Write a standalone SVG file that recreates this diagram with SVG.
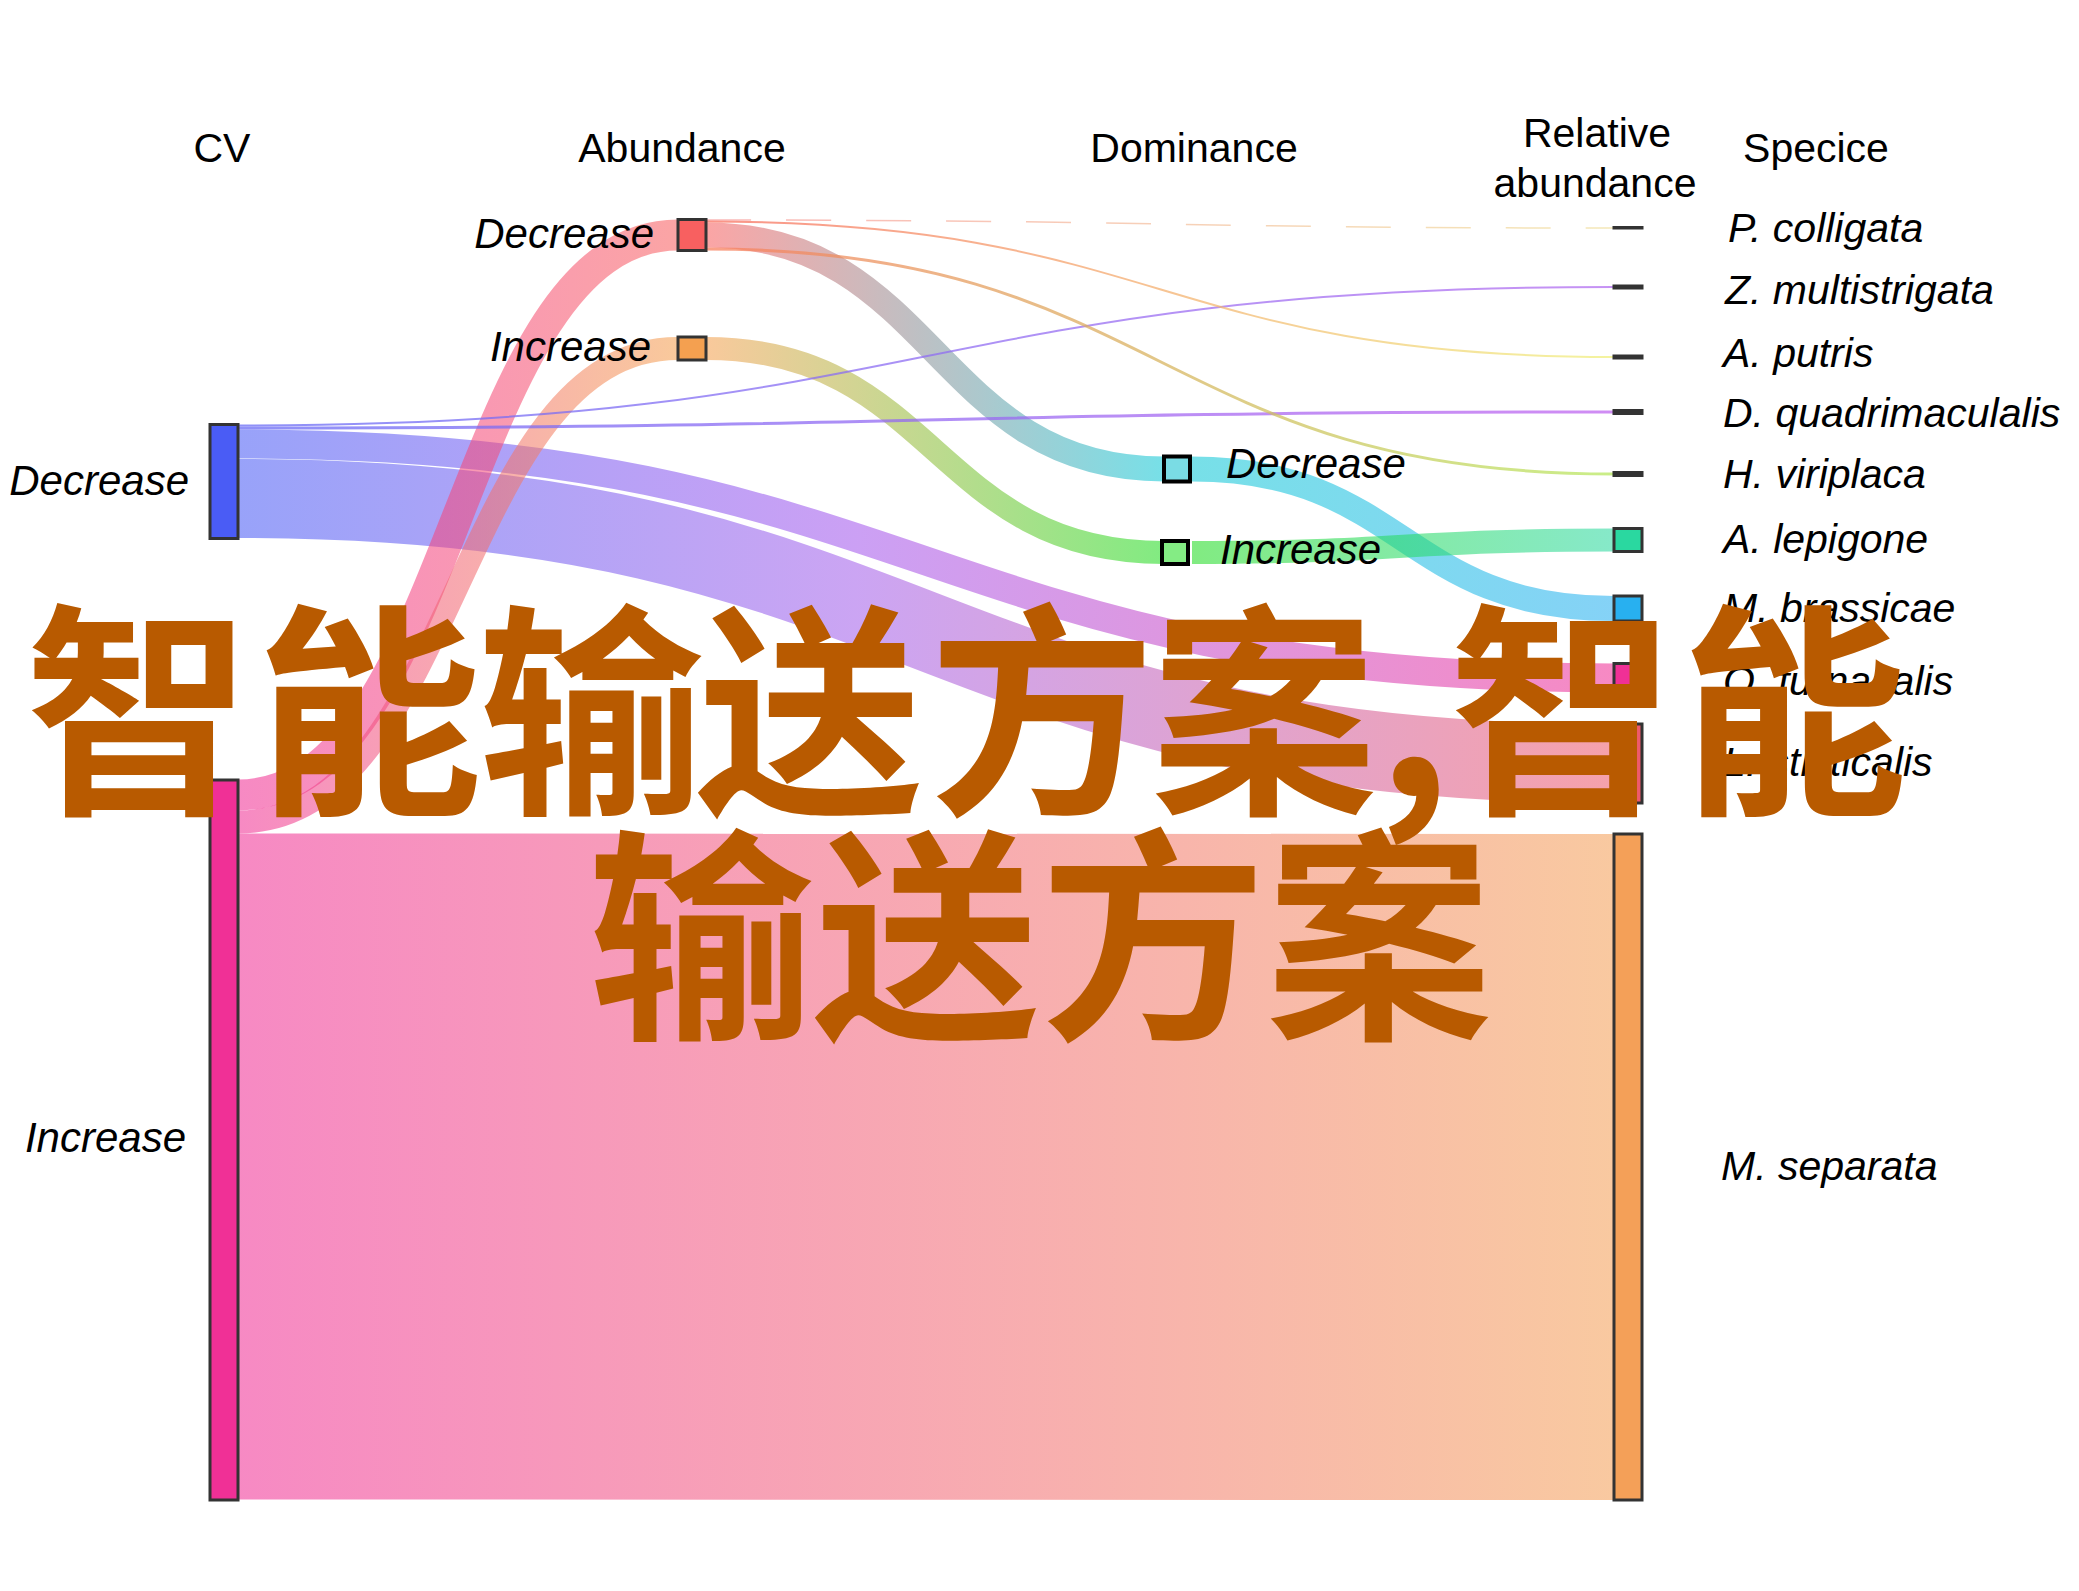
<svg xmlns="http://www.w3.org/2000/svg" width="2079" height="1591" viewBox="0 0 2079 1591">
<style>
.hdr{font-family:"Liberation Sans",Arial,sans-serif;font-size:41px;fill:#000;text-anchor:middle}
.lbl{font-family:"Liberation Sans",Arial,sans-serif;font-size:42px;font-style:italic;fill:#000}
.sp{font-family:"Liberation Sans",Arial,sans-serif;font-size:41px;font-style:italic;fill:#000}
.end{text-anchor:end}
.node{stroke:#333;stroke-width:3}
.dom{stroke:#000;stroke-width:4}
.link{fill:none;stroke-opacity:0.57}
.thin{fill:none;stroke-opacity:0.75}
.big{font-family:"Noto Sans CJK SC","Noto Sans CJK JP",sans-serif;font-size:226px;font-weight:700;fill:#B85A00}
</style>
<defs>
<linearGradient id="g1" gradientUnits="userSpaceOnUse" x1="238" y1="0" x2="1614" y2="0"><stop offset="0" stop-color="#6A6CF5"/><stop offset="1" stop-color="#B36EF0"/></linearGradient>
<linearGradient id="g2" gradientUnits="userSpaceOnUse" x1="238" y1="0" x2="1614" y2="0"><stop offset="0" stop-color="#6A6CF5"/><stop offset="1" stop-color="#C066F0"/></linearGradient>
<linearGradient id="g3" gradientUnits="userSpaceOnUse" x1="238" y1="0" x2="1614" y2="0"><stop offset="0" stop-color="#4A5CF5"/><stop offset="0.45" stop-color="#A458EC"/><stop offset="1" stop-color="#F03096"/></linearGradient>
<linearGradient id="g4" gradientUnits="userSpaceOnUse" x1="238" y1="0" x2="1614" y2="0"><stop offset="0" stop-color="#4A5CF5"/><stop offset="0.45" stop-color="#A460EA"/><stop offset="1" stop-color="#EE5A6A"/></linearGradient>
<linearGradient id="g5" gradientUnits="userSpaceOnUse" x1="238" y1="0" x2="678" y2="0"><stop offset="0" stop-color="#F03096"/><stop offset="1" stop-color="#F86060"/></linearGradient>
<linearGradient id="g6" gradientUnits="userSpaceOnUse" x1="238" y1="0" x2="678" y2="0"><stop offset="0" stop-color="#F03096"/><stop offset="1" stop-color="#F4A050"/></linearGradient>
<linearGradient id="g7" gradientUnits="userSpaceOnUse" x1="238" y1="0" x2="1614" y2="0"><stop offset="0" stop-color="#F03096"/><stop offset="1" stop-color="#F4A058"/></linearGradient>
<linearGradient id="g8" gradientUnits="userSpaceOnUse" x1="706" y1="0" x2="1614" y2="0"><stop offset="0" stop-color="#F8A0A0"/><stop offset="1" stop-color="#F0E0A0"/></linearGradient>
<linearGradient id="g9" gradientUnits="userSpaceOnUse" x1="706" y1="0" x2="1614" y2="0"><stop offset="0" stop-color="#F87060"/><stop offset="1" stop-color="#F0F080"/></linearGradient>
<linearGradient id="g10" gradientUnits="userSpaceOnUse" x1="706" y1="0" x2="1164" y2="0"><stop offset="0" stop-color="#F86060"/><stop offset="1" stop-color="#10C8D6"/></linearGradient>
<linearGradient id="g11" gradientUnits="userSpaceOnUse" x1="706" y1="0" x2="1614" y2="0"><stop offset="0" stop-color="#F88060"/><stop offset="1" stop-color="#B8E860"/></linearGradient>
<linearGradient id="g12" gradientUnits="userSpaceOnUse" x1="706" y1="0" x2="1164" y2="0"><stop offset="0" stop-color="#F4A050"/><stop offset="1" stop-color="#22DC22"/></linearGradient>
<linearGradient id="g13" gradientUnits="userSpaceOnUse" x1="1192" y1="0" x2="1614" y2="0"><stop offset="0" stop-color="#10C8D6"/><stop offset="1" stop-color="#28B0F0"/></linearGradient>
<linearGradient id="g14" gradientUnits="userSpaceOnUse" x1="1192" y1="0" x2="1614" y2="0"><stop offset="0" stop-color="#22DC22"/><stop offset="1" stop-color="#2AD8A0"/></linearGradient>
</defs>
<rect width="2079" height="1591" fill="#fff"/>
<g id="connectors">
<path class="link" stroke="url(#g7)" stroke-width="666" d="M238,1166.5 C926,1166.5 926,1167 1614,1167"/>
<path class="link" stroke="url(#g4)" stroke-width="79" d="M238,498.5 C926,498.5 926,763.5 1614,763.5"/>
<path class="link" stroke="url(#g3)" stroke-width="29" d="M238,444 C926,444 926,678 1614,678"/>
<path class="link" stroke="url(#g5)" stroke-width="31" d="M238,795 C458,795 458,235 678,235"/>
<path class="link" stroke="url(#g6)" stroke-width="23" d="M238,822 C458,822 458,348.5 678,348.5"/>
<path class="link" stroke="url(#g10)" stroke-width="25" d="M706,235 C935,235 935,469 1164,469"/>
<path class="link" stroke="url(#g12)" stroke-width="23" d="M706,348.5 C935,348.5 935,552.5 1164,552.5"/>
<path class="link" stroke="url(#g13)" stroke-width="25" d="M1192,469 C1403,469 1403,608.5 1614,608.5"/>
<path class="link" stroke="url(#g14)" stroke-width="23" d="M1192,552.5 C1403,552.5 1403,540 1614,540"/>
<path class="thin" stroke="url(#g1)" stroke-width="2" d="M238,425.5 C926,425.5 926,287 1614,287"/>
<path class="thin" stroke="url(#g2)" stroke-width="3" d="M238,428 C926,428 926,412 1614,412"/>
<path class="thin" stroke="url(#g8)" stroke-width="1.5" stroke-dasharray="45 35" d="M706,220 C1160,220 1160,228 1614,228"/>
<path class="thin" stroke="url(#g9)" stroke-width="2" d="M706,221.5 C1160,221.5 1160,357 1614,357"/>
<path class="thin" stroke="url(#g11)" stroke-width="3" d="M706,249 C1160,249 1160,474 1614,474"/>
</g>
<g id="cv-decrease"><rect class="node" x="210" y="424.5" width="28" height="114" fill="#4A5CF5"/><text class="lbl end" x="189" y="495">Decrease</text></g>
<g id="cv-increase"><rect class="node" x="210" y="780" width="28" height="720" fill="#F03096"/><text class="lbl end" x="186" y="1152">Increase</text></g>
<g id="ab-decrease"><rect class="node" x="678" y="219.5" width="28" height="31" fill="#F86060"/><text class="lbl end" x="654" y="248">Decrease</text></g>
<g id="ab-increase"><rect class="node" x="678" y="337" width="28" height="23" fill="#F4A050"/><text class="lbl end" x="651" y="361">Increase</text></g>
<g id="dom-decrease"><rect class="dom" x="1164" y="456.5" width="26" height="25" fill="#7ADCE4"/><text class="lbl" x="1226" y="478">Decrease</text></g>
<g id="dom-increase"><rect class="dom" x="1162" y="541" width="26" height="23" fill="#84EC84"/><text class="lbl" x="1220" y="564">Increase</text></g>
<g id="p-colligata"><rect class="node" x="1614" y="227.5" width="28" height="0.5" stroke-width="2.5" fill="#F0E0A0"/><text class="sp" x="1728" y="242">P. colligata</text></g>
<g id="z-multistrigata"><rect class="node" x="1614" y="286" width="28" height="2" fill="#B36EF0"/><text class="sp" x="1725" y="304">Z. multistrigata</text></g>
<g id="a-putris"><rect class="node" x="1614" y="356" width="28" height="2" fill="#F0F080"/><text class="sp" x="1723" y="367">A. putris</text></g>
<g id="d-quadrimaculalis"><rect class="node" x="1614" y="410.5" width="28" height="3" fill="#C066F0"/><text class="sp" x="1723" y="427">D. quadrimaculalis</text></g>
<g id="h-viriplaca"><rect class="node" x="1614" y="472.5" width="28" height="3" fill="#B8E860"/><text class="sp" x="1723" y="488">H. viriplaca</text></g>
<g id="a-lepigone"><rect class="node" x="1614" y="528.5" width="28" height="23" fill="#2AD8A0"/><text class="sp" x="1723" y="553">A. lepigone</text></g>
<g id="m-brassicae"><rect class="node" x="1614" y="596" width="28" height="25" fill="#28B0F0"/><text class="sp" x="1723" y="622">M. brassicae</text></g>
<g id="o-furnacalis"><rect class="node" x="1614" y="663.5" width="28" height="29" fill="#F03096"/><text class="sp" x="1723" y="695">O. furnacalis</text></g>
<g id="l-sticticalis"><rect class="node" x="1614" y="724" width="28" height="79" fill="#EE5A6A"/><text class="sp" x="1723" y="776">L. sticticalis</text></g>
<g id="m-separata"><rect class="node" x="1614" y="834" width="28" height="666" fill="#F4A058"/><text class="sp" x="1721" y="1180">M. separata</text></g>
<g id="headers">
<text class="hdr" x="222" y="162">CV</text>
<text class="hdr" x="682" y="162">Abundance</text>
<text class="hdr" x="1194" y="162">Dominance</text>
<text class="hdr" x="1597" y="147">Relative</text>
<text class="hdr" x="1595" y="197">abundance</text>
<text class="hdr" x="1816" y="162">Specice</text>
</g>
<g id="overlay">
<text class="big" x="25 256 478 697 929 1151 1377 1449 1681" y="797">智能输送方案,智能</text>
<text class="big" x="588 814 1040 1266" y="1022">输送方案</text>
</g>
</svg>
